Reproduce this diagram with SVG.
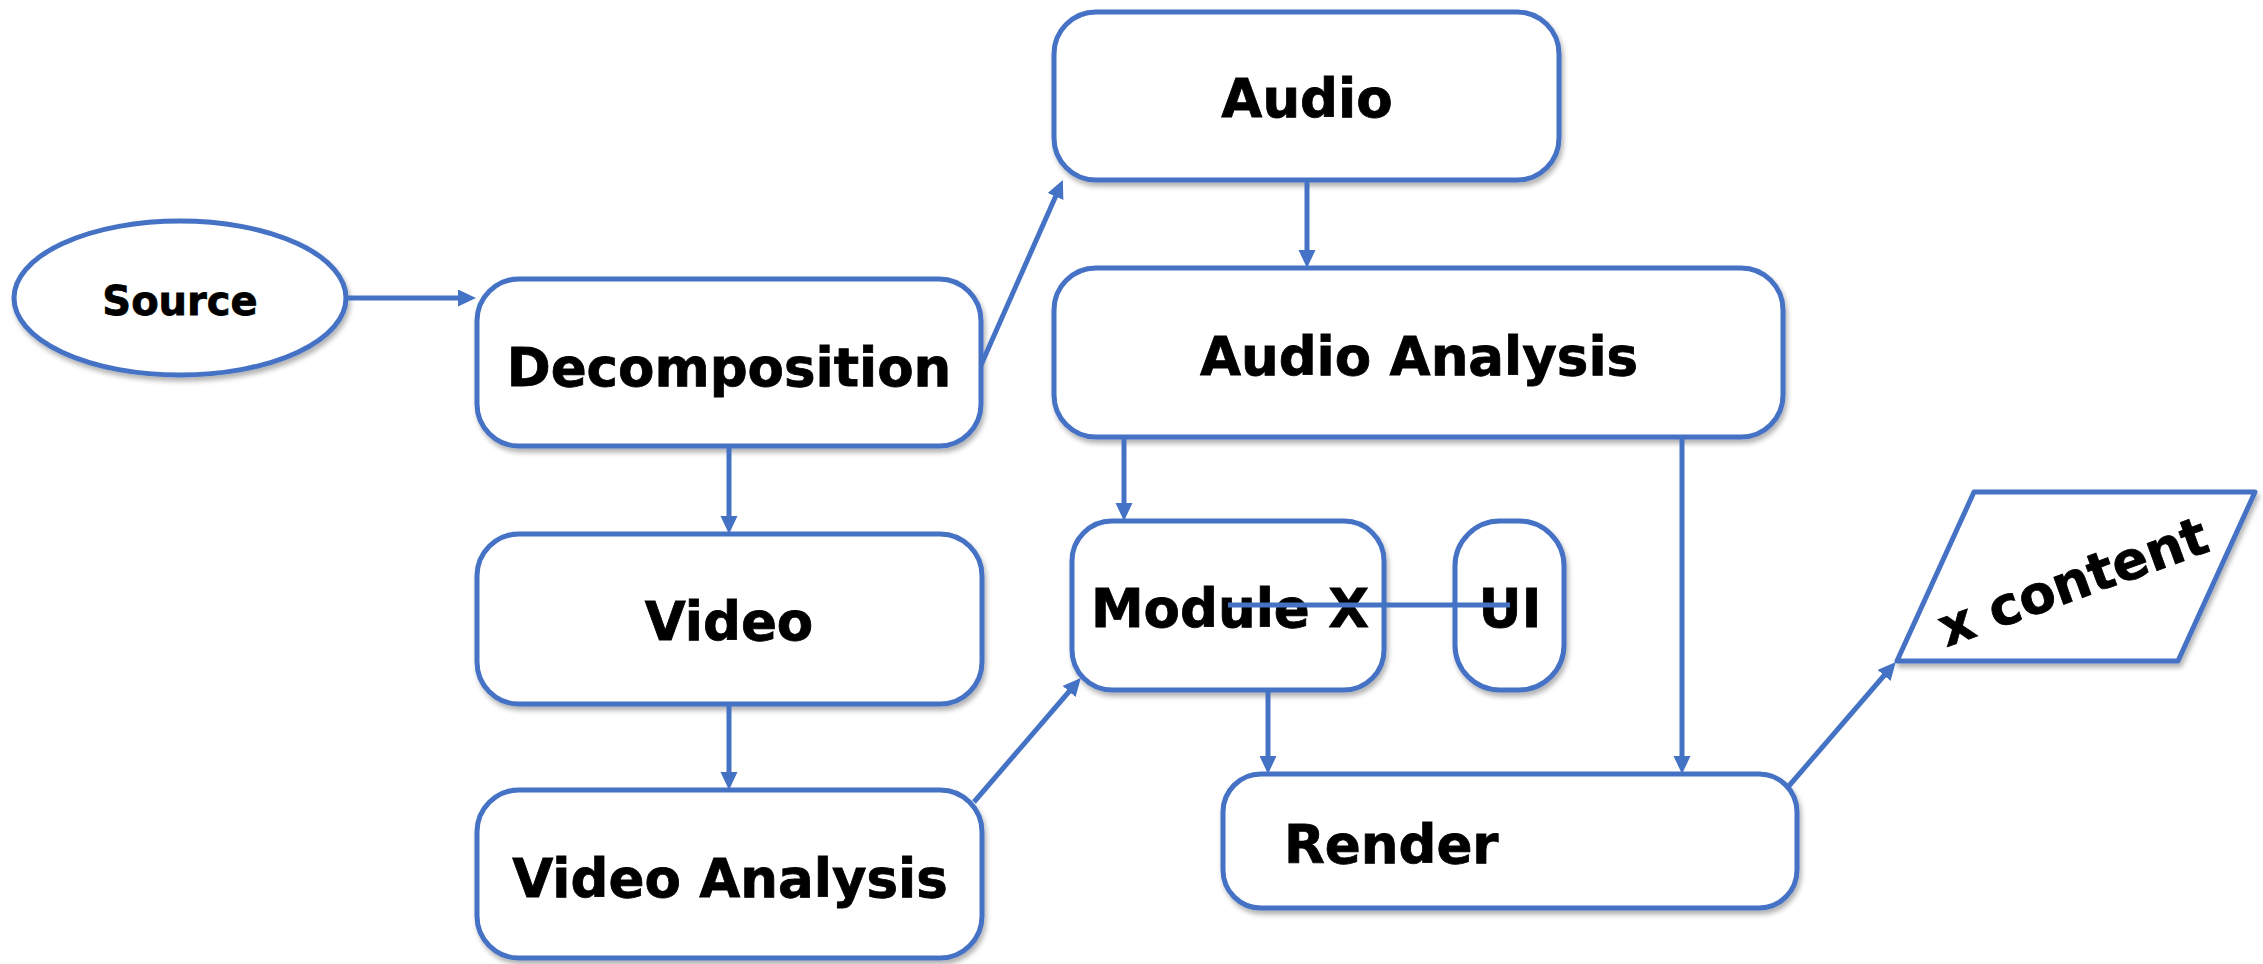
<svg xmlns="http://www.w3.org/2000/svg" width="2263" height="964" viewBox="0 0 2263 964">
<defs>
<style>
.n{fill:#fff;stroke:#4472C4;stroke-width:5;filter:url(#sh)}
.t{font-family:"DejaVu Sans",Verdana,sans-serif;font-weight:bold;font-size:53px;fill:#000;stroke:#000;stroke-width:0.8;text-anchor:middle}
.c{stroke:#4472C4;stroke-width:5;fill:none}
.a{marker-end:url(#ah)}
</style>
<filter id="sh" x="-10%" y="-10%" width="120%" height="125%">
<feDropShadow dx="2" dy="4" stdDeviation="2.5" flood-color="#000" flood-opacity="0.3"/>
</filter>
<marker id="ah" markerUnits="userSpaceOnUse" markerWidth="20" markerHeight="18" refX="6" refY="8.5" orient="auto">
<path d="M0,0 L18,8.5 L0,17 z" fill="#4472C4"/>
</marker>
</defs>
<rect width="2263" height="964" fill="#fff"/>
<g id="source">
<ellipse class="n" cx="180" cy="298" rx="166" ry="77"/>
<text class="t" x="180" y="315" style="font-size:40px">Source</text>
</g>
<g id="decomposition">
<rect class="n" x="477" y="279" width="504" height="167" rx="42"/>
<text class="t" x="729" y="386">Decomposition</text>
</g>
<g id="audio">
<rect class="n" x="1054" y="12" width="505" height="168" rx="42"/>
<text class="t" x="1307" y="117">Audio</text>
</g>
<g id="audio-analysis">
<rect class="n" x="1054" y="268" width="729" height="169" rx="42"/>
<text class="t" x="1419" y="375">Audio Analysis</text>
</g>
<g id="video">
<rect class="n" x="477" y="534" width="505" height="170" rx="42"/>
<text class="t" x="729" y="640">Video</text>
</g>
<g id="video-analysis">
<rect class="n" x="477" y="790" width="505" height="168" rx="42"/>
<text class="t" x="730" y="897">Video Analysis</text>
</g>
<g id="module-x">
<rect class="n" x="1072" y="521" width="312" height="169" rx="40"/>
<text class="t" x="1230" y="627">Module X</text>
</g>
<g id="ui">
<rect class="n" x="1455" y="521" width="109" height="169" rx="45"/>
<text class="t" x="1510" y="627">UI</text>
</g>
<g id="render">
<rect class="n" x="1223" y="774" width="574" height="134" rx="38"/>
<text class="t" x="1284" y="863" style="text-anchor:start">Render</text>
</g>
<g id="x-content">
<polygon class="n" points="1974,492 2255,492 2178,661 1897,661" stroke-linejoin="round"/>
<text class="t" transform="translate(2073,582) rotate(-20)" x="0" y="18">x content</text>
</g>
<g id="connectors">
<line class="c a" x1="346" y1="298" x2="464" y2="298"/>
<line class="c a" x1="981" y1="365" x2="1058" y2="191"/>
<line class="c a" x1="1307" y1="180" x2="1307" y2="256"/>
<line class="c a" x1="729" y1="446" x2="729" y2="522"/>
<line class="c a" x1="729" y1="704" x2="729" y2="778"/>
<line class="c a" x1="1124" y1="437" x2="1124" y2="509"/>
<line class="c a" x1="1682" y1="437" x2="1682" y2="762"/>
<line class="c a" x1="974" y1="802" x2="1073" y2="687"/>
<line class="c a" x1="1268" y1="690" x2="1268" y2="762"/>
<line class="c a" x1="1788" y1="787" x2="1888" y2="671"/>
<line class="c" x1="1228" y1="605" x2="1510" y2="605"/>
</g>
</svg>
